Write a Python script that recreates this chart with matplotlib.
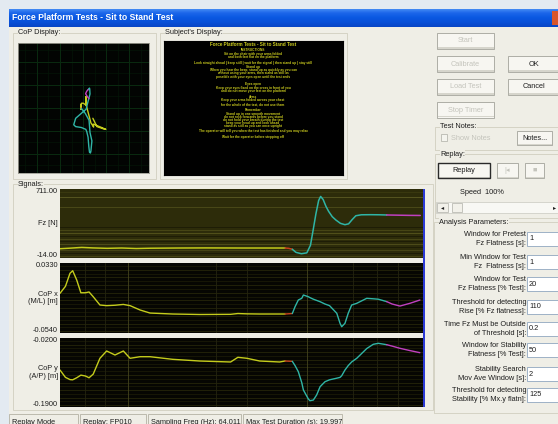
import numpy as np
import matplotlib.pyplot as plt
from matplotlib.patches import Rectangle
from matplotlib.colors import LinearSegmentedColormap

W, H = 558, 424
WIN = '#efeee6'

# Fz trace (time in s, force in N)
fz_t = [0.0, 0.6, 1.2, 1.8, 2.6, 3.4, 4.2, 5.0, 6.5, 8.0, 10.0,
        12.4, 12.6, 12.8, 13.0, 13.3, 13.6, 13.8, 13.95, 14.1, 14.25, 14.36, 14.5, 14.65, 14.8,
        15.0, 15.2, 15.45, 15.7, 15.9, 16.1, 16.3, 16.6, 17.1, 17.6, 18.0,
        18.6, 19.2, 19.85]
fz_v = [84, 90, 97, 92, 88, 91, 86, 89, 91, 92, 91,
        91, 88, 78, 45, 31, 40, 120, 283, 450, 590, 633, 600, 530, 476,
        420, 385, 350, 336, 345, 390, 430, 440, 441, 440, 438,
        436, 434, 433]

# centre of pressure (m), same time base for both directions
t_cop = [0.0, 0.3, 0.55, 0.7, 0.92, 1.15, 1.4, 1.6, 1.83, 2.2, 2.57, 3.03, 3.49, 3.86,
         4.41, 4.96, 6.2, 7.7, 9.4, 9.8, 10.3, 11.0, 12.1, 12.4, 12.8, 12.95, 13.13,
         13.32, 13.41, 13.68, 13.77, 13.96, 14.14, 14.33, 14.6, 14.85, 15.25, 15.43,
         15.52, 15.7, 15.88, 16.07, 16.35, 16.9, 17.26, 17.54, 18.0, 18.3, 18.73,
         19.28, 19.83]
cop_x = [-0.0047, 0.0040, 0.0202, 0.0234, 0.0119, -0.0040, -0.0040, -0.0030, -0.0089,
         -0.0192, -0.0200, -0.0195, -0.0185, -0.0200, -0.0254, -0.0292, -0.0304, -0.0310,
         -0.0308, -0.0298, -0.0302, -0.0304, -0.0304, -0.0304, -0.0298, -0.0213, -0.0130,
         -0.0109, -0.0068, -0.0089, -0.0100, -0.0120, -0.0135, -0.0151, -0.0180, -0.0200,
         -0.0295, -0.0420, -0.0462, -0.0420, -0.0295, -0.0192, -0.0171, -0.0109, -0.0115,
         -0.0120, -0.0150, -0.0180, -0.0205, -0.0171, -0.0130]
cop_y = [-0.0989, -0.1170, -0.1225, -0.1230, -0.1180, -0.1115, -0.1136, -0.1180, -0.1090,
         -0.0700, -0.0520, -0.0619, -0.0520, -0.0700, -0.0661, -0.0661, -0.0725, -0.0767,
         -0.0791, -0.0676, -0.0700, -0.0767, -0.0791, -0.0767, -0.0775, -0.0880, -0.1030,
         -0.1300, -0.1481, -0.1700, -0.1745, -0.1728, -0.1604, -0.1400, -0.1277, -0.1230,
         -0.1190, -0.1170, -0.1130, -0.0989, -0.0880, -0.0790, -0.0700, -0.0460, -0.0355,
         -0.0331, -0.0365, -0.0400, -0.0454, -0.0510, -0.0562]

# test phases: pretest, rise detection, rise, stability
phase_edges = [0.0, 12.4, 12.8, 18.0, 19.85]
phase_colours = ['#c4cc1c', '#c8421c', '#2fb5a6', '#c040c0']
event_times = [1.4, 2.5, 3.75, 8.6, 10.3, 13.6, 16.15, 17.45, 18.6]

signal_names = ['Fz [N]', 'CoP x\n(M/L) [m]', 'CoP y\n(A/P) [m]']
signal_limits = [(-14.0, 711.0), (-0.0540, 0.0330), (-0.1900, -0.0200)]
limit_labels = [('711.00', '-14.00'), ('0.0330', '-0.0540'), ('-0.0200', '-0.1900')]

param_labels = ['Window for Pretest\nFz Flatness [s]:',
                'Min Window for Test\nFz  Flatness [s]:',
                'Window for Test\nFz Flatness [% Test]:',
                'Threshold for detecting\nRise [% Fz flatness]:',
                'Time Fz Must be Outside\nof Threshold [s]:',
                'Window for Stability\nFlatness [% Test]:',
                'Stability Search\nMov Ave Window [s]:',
                'Threshold for detecting\nStability [% Mx.y flatn]:']
param_values = ['1', '1', '20', '110', '0.2', '50', '2', '125']

status_fields = ['Replay Mode', 'Replay: FP010', 'Sampling Freq (Hz): 64.011',
                 'Max Test Duration (s): 19.997']

subject_lines = ['Force Platform Tests - Sit to Stand Test',
                 'INSTRUCTIONS',
                 'Sit on the chair with your arms folded',
                 'and both feet flat on the platform',
                 'Look straight ahead | keep still | wait for the signal | then stand up | stay still',
                 'Stand up',
                 'When you hear the beep, stand up as quickly as you can',
                 'without using your arms, then stand as still as',
                 'possible with your eyes open until the test ends',
                 'Eyes open',
                 'Keep your eyes fixed on the cross in front of you',
                 'and do not move your feet on the platform',
                 'Arms',
                 'Keep your arms folded across your chest',
                 'for the whole of the test, do not use them',
                 'Remember',
                 'Stand up in one smooth movement',
                 'do not rock forwards before you stand',
                 'do not hold your breath during the test',
                 'keep your head up and look ahead',
                 'stand as still as you can once upright',
                 'The operator will tell you when the test has finished and you may relax',
                 'Wait for the operator before stepping off']
subject_rows = [45, 50, 54, 57, 63, 67, 70, 73, 77, 84, 88, 91, 97, 100, 104,
                110, 114, 117, 120, 123, 126, 131, 137]

plt.rcParams['font.family'] = ['Liberation Sans', 'DejaVu Sans']
fig = plt.figure(figsize=(W / 100, H / 100), dpi=100)
fig.patch.set_facecolor('#e3eaf1')


def box(x0, y0, x1, y1, fc='none', ec='none', lw=0.0, z=1):
    fig.add_artist(Rectangle((x0 / W, 1 - y1 / H), (x1 - x0) / W, (y1 - y0) / H,
                             transform=fig.transFigure, facecolor=fc, edgecolor=ec,
                             linewidth=lw, zorder=z))


def label(x, y, s, size=5.3, color='#1e1e1e', ha='left', va='center', **kw):
    kw.setdefault('zorder', 4)
    fig.text(x / W, 1 - y / H, s, fontsize=size, color=color, ha=ha, va=va, **kw)


def panel(x0, y0, x1, y1):
    ax = fig.add_axes([x0 / W, 1 - y1 / H, (x1 - x0) / W, (y1 - y0) / H])
    ax.set_zorder(2)
    ax.set_xticks([])
    ax.set_yticks([])
    return ax


def button(x0, y0, x1, y1, text='', enabled=True, focus=False):
    box(x0, y0, x1, y1, fc='#f7f6f1', ec='#a2a29a', lw=0.6, z=2)
    box(x0 + 1, y1 - 1.5, x1 - 0.5, y1 - 0.5, fc='#d6d5cc', z=2.1)
    if focus:
        box(x0, y0, x1, y1, ec='#2a2a2a', lw=1.0, z=3)
    label((x0 + x1) / 2, (y0 + y1) / 2, text, ha='center',
          color='#1e1e1e' if enabled else '#c4c4bc')


def group(x0, y0, x1, y1, title):
    box(x0, y0, x1, y1, ec='#d0cebf', lw=0.6, z=1.5)
    label(x0 + 5, y0, title, bbox=dict(facecolor=WIN, edgecolor='none', pad=0.2))


def draw_phases(ax, x, y, lw=1.0):
    x = np.asarray(x)
    y = np.asarray(y)
    for a, b, c in zip(phase_edges[:-1], phase_edges[1:], phase_colours):
        m = (x >= a) & (x <= b)
        ax.plot(x[m], y[m], color=c, lw=lw, solid_capstyle='round')


def draw_phases_xy(ax, t, x, y, lw=1.0):
    t = np.asarray(t)
    x = np.asarray(x)
    y = np.asarray(y)
    for a, b, c in zip(phase_edges[:-1], phase_edges[1:], phase_colours):
        m = (t >= a) & (t <= b)
        ax.plot(x[m], y[m], color=c, lw=lw, solid_capstyle='round')


# window frame and title bar
box(9, 27, W, H, fc=WIN, z=0.5)
tb = fig.add_axes([9 / W, 1 - 27 / H, (W - 9) / W, 18 / H])
tb.axis('off')
blue = LinearSegmentedColormap.from_list('xp', ['#4a92f6', '#1c66ea', '#0a58e2', '#0850d8', '#0846c6'])
tb.imshow(np.linspace(0, 1, 32).reshape(-1, 1), aspect='auto', cmap=blue,
          extent=[0, 1, 0, 1])
tb.set_xlim(0, 1)
tb.set_ylim(0, 1)
label(12, 18, 'Force Platform Tests - Sit to Stand Test', size=6.2, color='white',
      weight='bold', zorder=5)
box(552, 11, W, 25, fc='#d9552c', z=5)

# CoP display
group(13, 33, 156, 179, 'CoP Display:')
ax_cop = panel(18, 43, 149, 173)
ax_cop.set_facecolor('#020402')
ax_cop.set_xlim(-0.167, 0.117)
ax_cop.set_ylim(-0.218, 0.065)
for gx in np.arange(-0.176, 0.12, 0.025):
    ax_cop.axvline(gx, color='#041507', lw=0.5)
for gy in np.arange(-0.226, 0.07, 0.025):
    ax_cop.axhline(gy, color='#041507', lw=0.5)
for gx in np.arange(-0.126, 0.12, 0.05):
    ax_cop.axvline(gx, color='#0a2a10', lw=0.7)
for gy in np.arange(0.024, -0.22, -0.05):
    ax_cop.axhline(gy, color='#0a2a10', lw=0.7)
draw_phases_xy(ax_cop, t_cop, cop_x, cop_y, lw=1.0)
for s in ax_cop.spines.values():
    s.set_color('#9a9a90')
    s.set_linewidth(0.6)

# subject's display
group(160, 33, 347, 179, "Subject's Display:")
ax_sub = panel(164, 41, 343, 175)
ax_sub.set_facecolor('#000000')
for i, (row, line) in enumerate(zip(subject_rows, subject_lines)):
    label(253, row, line, size=3.3 if i == 0 else 2.3, color='#cccc1e', ha='center',
          weight='bold', zorder=6)

# signals
group(13, 184, 433, 410, 'Signals:')
panel_boxes = [(60, 189, 423, 258), (60, 263, 423, 333), (60, 338, 423, 407)]
fz_rules = [(0.05, '#3c3b10'), (0.12, '#5c5b24'), (0.26, '#4e4d1a'), (0.55, '#1c1b06'),
            (0.60, '#4c4b18'), (0.64, '#57561e'), (0.68, '#1c1b06'), (0.72, '#4c4b18'),
            (0.76, '#1c1b06'), (0.80, '#53521c'), (0.84, '#1c1b06'), (0.88, '#4c4b18'),
            (0.93, '#1c1b06'), (0.97, '#4c4b18')]

for k, (pb, lim, name, ends) in enumerate(zip(panel_boxes, signal_limits,
                                              signal_names, limit_labels)):
    ax = panel(*pb)
    lo, hi = lim
    ax.set_xlim(0, 20)
    ax.set_ylim(lo, hi)
    for s in ax.spines.values():
        s.set_visible(False)
    if k == 0:
        ax.set_facecolor('#2d2c0a')
        for f, c in fz_rules:
            ax.axhline(hi - f * (hi - lo), color=c, lw=0.6)
        draw_phases(ax, fz_t, fz_v, lw=1.1)
    else:
        ax.set_facecolor('#060602')
        for j, f in enumerate(np.arange(0.04, 1.0, 0.055)):
            ax.axhline(hi - f * (hi - lo), color='#26260a' if j % 2 else '#1a1a06', lw=0.6)
        for et in event_times:
            ax.axvline(et, color='#44441e' if et in (3.75, 13.6) else '#242410', lw=0.6)
        draw_phases(ax, t_cop, cop_x if k == 1 else cop_y, lw=1.0)
    x0, y0, x1, y1 = pb
    label(58, y0 + 2.5, ends[0], ha='right')
    label(58, y1 - 2.5, ends[1], ha='right')
    label(58, (y0 + y1) / 2, name, ha='right', linespacing=1.15, multialignment='right')
box(423, 189, 425, 407, fc='#2c3ad6', z=5)

# right-hand controls
for i, name in enumerate(['Start', 'Calibrate', 'Load Test', 'Stop Timer']):
    button(437, 33 + 23 * i, 494, 49 + 23 * i, name, enabled=False)
button(508, 56, 560, 72, 'OK')
button(508, 79, 560, 95, 'Cancel')

group(435, 127, 560, 150, 'Test Notes:')
box(441, 134, 447, 141, fc='#f4f4ee', ec='#b8b8b0', lw=0.6, z=2)
label(451, 138, 'Show Notes', color='#c4c4bc')
button(517, 131, 552, 145, 'Notes...')

group(435, 154, 560, 218, 'Replay:')
button(438, 163, 490, 178, 'Replay', focus=True)
button(497, 163, 518, 178, '|\u25c2', enabled=False)
button(525, 163, 544, 178, '\u25a0', enabled=False)
label(482, 192, 'Speed  100%', ha='center')
box(436, 202, 560, 213, fc='#f8f8f4', ec='#c8c8c0', lw=0.5, z=2)
box(437, 203, 448, 212, fc='#f2f1ea', ec='#b0b0a8', lw=0.5, z=2.5)
label(442.5, 207.5, '\u25c2', size=4.5, ha='center', color='#202020')
box(452, 203, 462, 212, fc='#f2f1ea', ec='#b0b0a8', lw=0.5, z=2.5)
label(555, 207.5, '\u25b8', size=4.5, ha='center', color='#202020')

group(434, 222, 560, 413, 'Analysis Parameters:')
param_tops = [232, 255, 277, 300, 322, 343, 367, 388]
for top, text, val in zip(param_tops, param_labels, param_values):
    label(526, top + 7, text, ha='right', linespacing=1.3, multialignment='right')
    box(527, top, 560, top + 14, fc='white', ec='#8fa6bf', lw=0.6, z=2)
    label(529, top + 7, val)

# status bar
status_boxes = [(9, 78), (80, 146), (148, 241), (243, 342)]
for (a, b), text in zip(status_boxes, status_fields):
    box(a, 414, b, 426, fc=WIN, ec='#b4b2a4', lw=0.6, z=2)
    label(a + 3, 422, text)

fig.savefig('out.png', dpi=100, facecolor=fig.get_facecolor())
